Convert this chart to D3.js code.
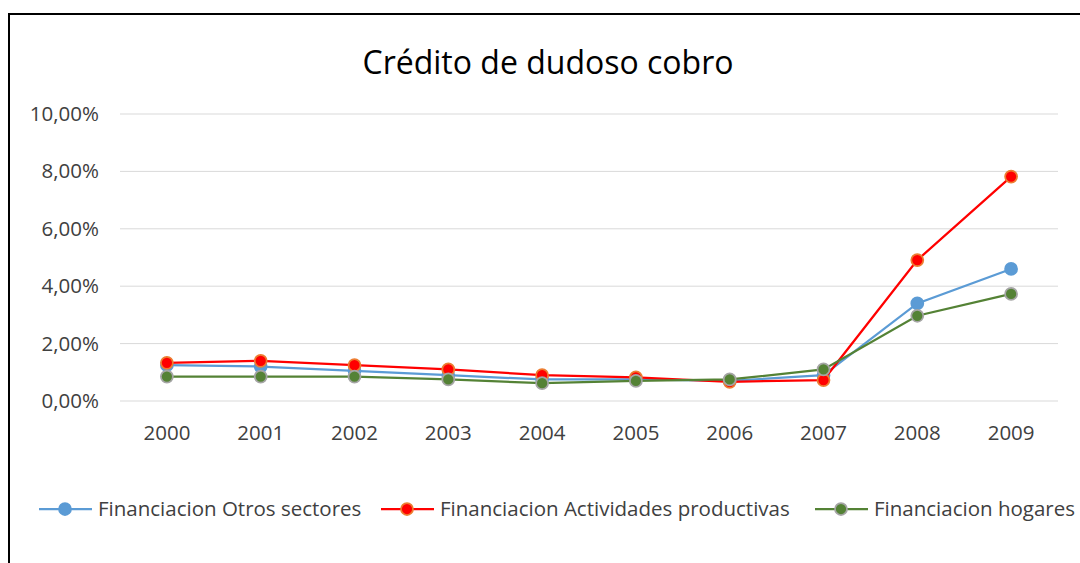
<!DOCTYPE html>
<html>
<head>
<meta charset="utf-8">
<script src="https://cdn.jsdelivr.net/npm/d3@7"></script>
<style>
  body { margin: 0; background: #fff; }
  text { font-family: "Open Sans", "Liberation Sans", sans-serif; fill: #404040; }
</style>
</head>
<body>
<div class="chart"></div>
<script>
const years = ['2000', '2001', '2002', '2003', '2004', '2005', '2006', '2007', '2008', '2009'];
const otros = [1.25, 1.2, 1.05, 0.9, 0.75, 0.75, 0.7, 0.9, 3.4, 4.6];
const actividades = [1.33, 1.4, 1.25, 1.1, 0.9, 0.82, 0.67, 0.73, 4.91, 7.82];
const hogares = [0.85, 0.85, 0.85, 0.75, 0.62, 0.7, 0.75, 1.1, 2.97, 3.73];
const yTicks = [0, 2, 4, 6, 8, 10];

const series = [
  { name: 'Financiacion Otros sectores', values: otros, line: '#5b9bd5', fill: '#5b9bd5', stroke: '#5b9bd5' },
  { name: 'Financiacion Actividades productivas', values: actividades, line: '#ff0000', fill: '#ff0000', stroke: '#ed7d31' },
  { name: 'Financiacion hogares', values: hogares, line: '#548235', fill: '#548235', stroke: '#a5a5a5' }
];

const dims = { width: 1080, height: 563 };
const plot = { left: 120, right: 1058, top: 114, bottom: 401 };

const svg = d3.select('.chart')
  .append('svg')
  .attr('width', dims.width)
  .attr('height', dims.height);

// chart area border (cut off at right and bottom like the picture)
svg.append('rect')
  .attr('x', 9).attr('y', 14)
  .attr('width', 1100).attr('height', 600)
  .attr('fill', 'none')
  .attr('stroke', '#000')
  .attr('stroke-width', 2);

svg.append('text')
  .attr('x', 548).attr('y', 74)
  .attr('text-anchor', 'middle')
  .attr('font-size', 32)
  .style('fill', '#000')
  .text('Crédito de dudoso cobro');

const x = d3.scaleBand()
  .domain(years)
  .range([plot.left, plot.right]);

const y = d3.scaleLinear()
  .domain([0, 10])
  .range([plot.bottom, plot.top]);

const fmt = d => d3.format('.2f')(d).replace('.', ',') + '%';

// gridlines
svg.append('g')
  .selectAll('line')
  .data(yTicks)
  .enter().append('line')
  .attr('x1', plot.left).attr('x2', plot.right)
  .attr('y1', d => y(d)).attr('y2', d => y(d))
  .attr('stroke', '#d9d9d9')
  .attr('stroke-width', 1);

const yAxis = svg.append('g')
  .attr('transform', `translate(${plot.left - 21}, 0)`)
  .call(d3.axisLeft(y).tickValues(yTicks).tickFormat(fmt).tickSize(0).tickPadding(0));
yAxis.select('.domain').remove();
yAxis.selectAll('text').attr('font-size', 20.5).style('fill', '#404040');

const xAxis = svg.append('g')
  .attr('transform', `translate(0, ${plot.bottom + 24})`)
  .call(d3.axisBottom(x).tickSize(0).tickPadding(0));
xAxis.select('.domain').remove();
xAxis.selectAll('text').attr('font-size', 20.5).attr('dy', '0.71em').style('fill', '#404040');

const cx = d => x(d) + x.bandwidth() / 2;

const line = d3.line()
  .x((d, i) => cx(years[i]))
  .y(d => y(d));

const groups = svg.selectAll('.series')
  .data(series)
  .enter().append('g')
  .attr('class', 'series');

groups.append('path')
  .attr('d', d => line(d.values))
  .attr('fill', 'none')
  .attr('stroke', d => d.line)
  .attr('stroke-width', 2.25);

groups.each(function (s) {
  d3.select(this).selectAll('circle')
    .data(s.values)
    .enter().append('circle')
    .attr('cx', (d, i) => cx(years[i]))
    .attr('cy', d => y(d))
    .attr('r', 6)
    .attr('fill', s.fill)
    .attr('stroke', s.stroke)
    .attr('stroke-width', 1.75);
});

// legend
const legendX = [39, 381, 815];
const legendY = 509;
const items = svg.append('g')
  .selectAll('g')
  .data(series)
  .enter().append('g')
  .attr('transform', (d, i) => `translate(${legendX[i]}, ${legendY})`);

items.append('line')
  .attr('x1', 0).attr('x2', 53)
  .attr('y1', 0).attr('y2', 0)
  .attr('stroke', d => d.line)
  .attr('stroke-width', 2.25);

items.append('circle')
  .attr('cx', 26).attr('cy', 0)
  .attr('r', 6)
  .attr('fill', d => d.fill)
  .attr('stroke', d => d.stroke)
  .attr('stroke-width', 1.75);

items.append('text')
  .attr('x', 59).attr('y', 0)
  .attr('dy', '0.35em')
  .attr('font-size', 20.5)
  .style('fill', '#404040')
  .text(d => d.name);
</script>
</body>
</html>
